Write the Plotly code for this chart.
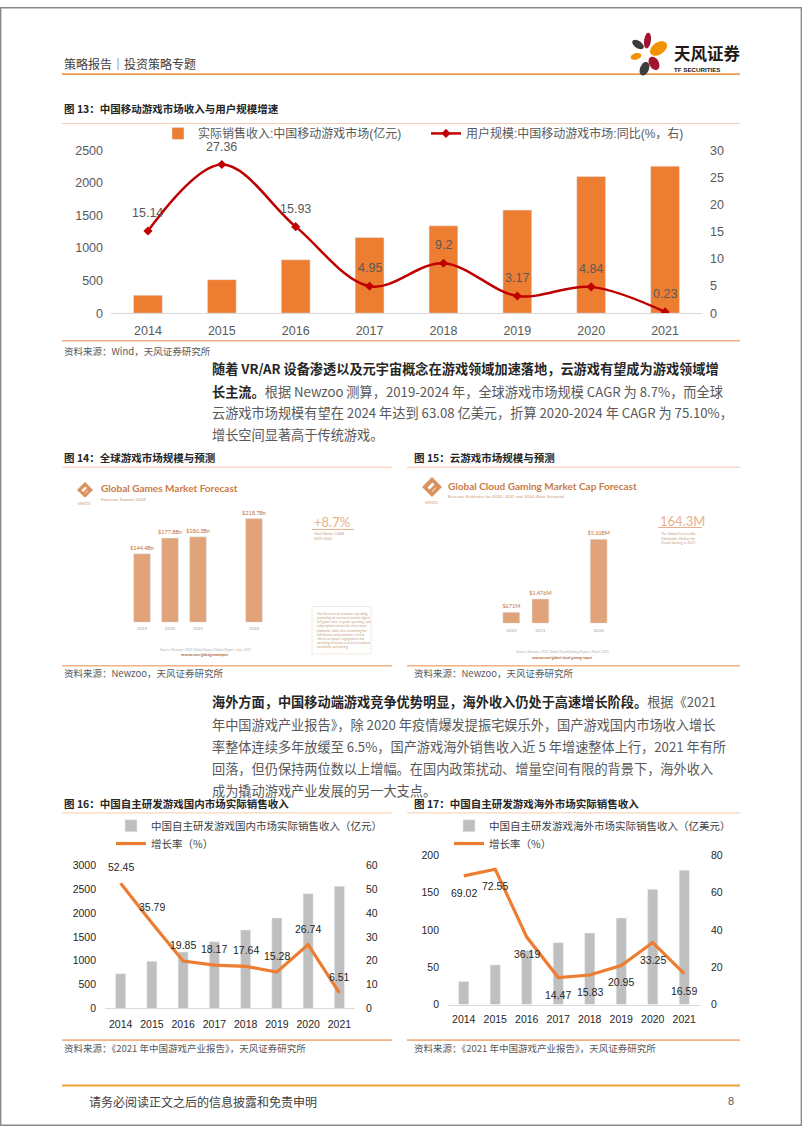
import math
import plotly.graph_objects as go

W, H = 802, 1133
def X(px): return px / W
def Y(py): return 1 - py / H

# ---------------- data ----------------
years13 = ['2014', '2015', '2016', '2017', '2018', '2019', '2020', '2021']
rev13 = [274.9, 514.6, 819.2, 1161.2, 1339.6, 1581.1, 2096.8, 2255.4]
yoy13 = [15.14, 27.36, 15.93, 4.95, 9.2, 3.17, 4.84, 0.23]

years14 = ['2019', '2020', '2021', '2024']
slots14 = ['2019', '2020', '2021', ' ', '2024']
glob14 = [144.4, 177.8, 180.3, 218.7]

years15 = ['2020', '2021', '2024']
slots15 = ['2020', '2021', ' ', '2024']
cloud15 = [671, 1476, 5108]

years16 = ['2014', '2015', '2016', '2017', '2018', '2019', '2020', '2021']
dom16 = [726.6, 986.7, 1182.5, 1397.4, 1643.9, 1895.1, 2401.9, 2558.2]
gr16 = [52.45, 35.79, 19.85, 18.17, 17.64, 15.28, 26.74, 6.51]

years17 = ['2014', '2015', '2016', '2017', '2018', '2019', '2020', '2021']
ovs17 = [30.76, 53.1, 72.35, 82.8, 95.9, 115.95, 154.5, 180.13]
gr17 = [69.02, 72.55, 36.19, 14.47, 15.83, 20.95, 33.25, 16.59]

# ---------------- styles ----------------
F_CJK = 'Noto Sans CJK SC, sans-serif'
F_NUM = 'Liberation Sans, Noto Sans CJK SC, sans-serif'
F_NAR = 'Liberation Sans Narrow, Liberation Sans, Noto Sans CJK SC, sans-serif'
F_NZ = 'Lato, Open Sans, sans-serif'
ORANGE = '#ED7D31'
DARKRED = '#C00000'
GREY = '#BFBFBF'
TAN = '#E0A37A'
NZTXT = '#C97B47'

fig = go.Figure()

# chart 13
fig.add_trace(go.Bar(x=years13, y=rev13, name='实际销售收入:中国移动游戏市场(亿元)',
                     marker_color=ORANGE, width=0.39, xaxis='x', yaxis='y', legend='legend'))
fig.add_trace(go.Scatter(x=years13, y=yoy13, name='用户规模:中国移动游戏市场:同比(%，右)',
                         mode='lines+markers',
                         line=dict(color=DARKRED, width=2.5, shape='spline', smoothing=1.0),
                         marker=dict(symbol='diamond', size=7, color=DARKRED),
                         xaxis='x', yaxis='y2', legend='legend2'))
# chart 14
fig.add_trace(go.Bar(x=years14, y=glob14, width=0.6, marker_color=TAN, showlegend=False,
                     texttemplate='$%{y}Bn', textposition='outside', constraintext='none',
                     textfont=dict(size=5.5, color='#C0703A', family=F_NZ), cliponaxis=False,
                     xaxis='x2', yaxis='y3'))
# chart 15
fig.add_trace(go.Bar(x=years15, y=cloud15, width=0.58, marker_color=TAN, showlegend=False,
                     texttemplate='$%{y:,}M', textposition='outside', constraintext='none',
                     textfont=dict(size=5.5, color='#C0703A', family=F_NZ), cliponaxis=False,
                     xaxis='x3', yaxis='y4'))
# chart 16
fig.add_trace(go.Bar(x=years16, y=dom16, name='中国自主研发游戏国内市场实际销售收入（亿元）',
                     marker_color=GREY, width=0.32, xaxis='x4', yaxis='y5', legend='legend3'))
fig.add_trace(go.Scatter(x=years16, y=gr16, name='增长率（%）', mode='lines',
                         line=dict(color=ORANGE, width=3.2), xaxis='x4', yaxis='y6', legend='legend4'))
# chart 17
fig.add_trace(go.Bar(x=years17, y=ovs17, name='中国自主研发游戏海外市场实际销售收入（亿美元）',
                     marker_color=GREY, width=0.32, xaxis='x5', yaxis='y7', legend='legend5'))
fig.add_trace(go.Scatter(x=years17, y=gr17, name='增长率（%）', mode='lines',
                         line=dict(color=ORANGE, width=3.2), xaxis='x5', yaxis='y8', legend='legend6'))

# ---------------- axes ----------------
def xcat(dom, anchor, size, color, family, cats, line=True, standoff=5):
    return dict(domain=[X(dom[0]), X(dom[1])], anchor=anchor, type='category',
                categoryorder='array', categoryarray=cats, range=[-0.5, len(cats) - 0.5],
                showline=line, linecolor='#D9D9D9', linewidth=1, ticks='', showgrid=False,
                zeroline=False, tickfont=dict(size=size, color=color, family=family),
                ticklabelstandoff=standoff, fixedrange=True)

def yax(dom, anchor, rng, dtick, size, color, family, side='left', overlay=None, show=True, standoff=7):
    d = dict(anchor=anchor, range=rng, dtick=dtick, side=side, showgrid=False, zeroline=False,
             showline=False, ticks='', showticklabels=show,
             tickfont=dict(size=size, color=color, family=family), ticklabelstandoff=standoff,
             fixedrange=True)
    if overlay:
        d['overlaying'] = overlay
    else:
        d['domain'] = [Y(dom[0]), Y(dom[1])]
    return d

layout = dict(
    width=W, height=H, margin=dict(l=0, r=0, t=0, b=0), autosize=False,
    paper_bgcolor='white', plot_bgcolor='rgba(0,0,0,0)',
    font=dict(family=F_CJK, color='#404040'),
    xaxis=xcat((111, 702), 'y', 12.5, '#595959', F_NAR, years13, standoff=6),
    yaxis=yax((310, 145), 'x', [0, 2500], 500, 12.5, '#595959', F_NAR),
    yaxis2=yax(None, 'x', [0, 30], 5, 12.5, '#595959', F_NAR, side='right', overlay='y'),
    xaxis2=xcat((128, 268), 'y3', 4.5, '#A8A8A8', F_NZ, slots14, line=False, standoff=2),
    yaxis3=yax((623, 503), 'x2', [0, 250], 50, 5, '#999', F_NZ, show=False),
    xaxis3=xcat((496.75, 613.25), 'y4', 4.5, '#A8A8A8', F_NZ, slots15, line=False, standoff=3),
    yaxis4=yax((624, 524), 'x3', [0, 6000], 1000, 5, '#999', F_NZ, show=False),
    xaxis4=xcat((105, 355), 'y5', 10.5, '#262626', F_NUM, years16, standoff=6),
    yaxis5=yax((1014, 869), 'x4', [0, 3000], 500, 10.5, '#262626', F_NUM, standoff=8),
    yaxis6=yax(None, 'x4', [0, 60], 10, 10.5, '#262626', F_NUM, side='right', overlay='y5', standoff=10),
    xaxis5=xcat((448, 700), 'y7', 10.5, '#262626', F_NUM, years17, standoff=5),
    yaxis7=yax((1010, 859), 'x5', [0, 200], 50, 10.5, '#262626', F_NUM, standoff=8),
    yaxis8=yax(None, 'x5', [0, 80], 20, 10.5, '#262626', F_NUM, side='right', overlay='y7', standoff=10),
)

def leg(textx, ypx, size, color, family):
    return dict(x=X(textx - 39), y=Y(ypx), xanchor='left', yanchor='middle', orientation='h',
                bgcolor='rgba(0,0,0,0)', borderwidth=0,
                font=dict(size=size, color=color, family=family))

layout['legend'] = leg(197, 128, 12, '#595959', F_NAR)
layout['legend2'] = leg(465, 128, 12, '#595959', F_NAR)
layout['legend3'] = leg(150, 829, 10.5, '#404040', F_CJK)
layout['legend4'] = leg(150, 847, 10.5, '#404040', F_CJK)
layout['legend5'] = leg(488, 829, 10.5, '#404040', F_CJK)
layout['legend6'] = leg(488, 847, 10.5, '#404040', F_CJK)

# ---------------- annotations ----------------
ann = []
def txt(xpx, ypx, text, size, color='#404040', family=F_CJK, xanchor='left', **kw):
    ann.append(dict(x=X(xpx), y=Y(ypx), xref='paper', yref='paper', text=text, showarrow=False,
                    xanchor=xanchor, yanchor='middle', align='left',
                    font=dict(size=size, color=color, family=family), **kw))

# header / footer
txt(62, 57, '策略报告｜投资策略专题', 12, '#404040')
txt(672, 47, '<b>天风证券</b>', 16.5, '#231815')
txt(672, 63, '<b>TF SECURITIES</b>', 6.2, '#231815', F_NUM)
txt(87, 1108, '请务必阅读正文之后的信息披露和免责申明', 12, '#404040')
txt(736, 1108, '8', 11, '#595959', F_NUM, xanchor='right')

# titles & sources
txt(62, 103, '<b>图 13：中国移动游戏市场收入与用户规模增速</b>', 10.5, '#262626')
txt(62, 348, '资料来源：Wind，天风证券研究所', 9.5, '#595959')
txt(62, 456, '<b>图 14：全球游戏市场规模与预测</b>', 10.5, '#262626')
txt(412, 456, '<b>图 15：云游戏市场规模与预测</b>', 10.5, '#262626')
txt(62, 674, '资料来源：Newzoo，天风证券研究所', 9.5, '#595959')
txt(412, 674, '资料来源：Newzoo，天风证券研究所', 9.5, '#595959')
txt(62, 806, '<b>图 16：中国自主研发游戏国内市场实际销售收入</b>', 10.5, '#262626')
txt(412, 806, '<b>图 17：中国自主研发游戏海外市场实际销售收入</b>', 10.5, '#262626')
txt(62, 1054, '资料来源：《2021 年中国游戏产业报告》，天风证券研究所', 9.5, '#595959')
txt(412, 1054, '资料来源：《2021 年中国游戏产业报告》，天风证券研究所', 9.5, '#595959')

# paragraphs
B = '#262626'
N = '#595959'
def para(ypx, parts, size=13.2):
    s = ''
    for bold, t in parts:
        if bold:
            s += f'<span style="color:{B}"><b>{t}</b></span>'
        else:
            s += f'<span style="color:{N}">{t}</span>'
    txt(210, ypx, s, size, N)

para(366, [(True, '随着 VR/AR 设备渗透以及元宇宙概念在游戏领域加速落地，云游戏有望成为游戏领域增')])
para(389, [(True, '长主流。'), (False, '根据 Newzoo 测算，2019-2024 年，全球游戏市场规模 CAGR 为 8.7%，而全球')])
para(411, [(False, '云游戏市场规模有望在 2024 年达到 63.08 亿美元，折算 2020-2024 年 CAGR 为 75.10%，')])
para(433, [(False, '增长空间显著高于传统游戏。')])

para(703, [(True, '海外方面，中国移动端游戏竞争优势明显，海外收入仍处于高速增长阶段。'), (False, '根据《2021')])
para(726, [(False, '年中国游戏产业报告》，除 2020 年疫情爆发提振宅娱乐外，国产游戏国内市场收入增长')])
para(749, [(False, '率整体连续多年放缓至 6.5%，国产游戏海外销售收入近 5 年增速整体上行，2021 年有所')])
para(771, [(False, '回落，但仍保持两位数以上增幅。在国内政策扰动、增量空间有限的背景下，海外收入')])
para(793, [(False, '成为撬动游戏产业发展的另一大支点。')])

# data labels (from the series arrays; category index on the x axis)
for i, v in enumerate(yoy13):
    ann.append(dict(x=i, y=v, xref='x', yref='y2', text=f'{v:g}', showarrow=False, yshift=18,
                    font=dict(size=12.5, color='#595959', family=F_NAR)))
for i, v in enumerate(gr16):
    ann.append(dict(x=i, y=v, xref='x4', yref='y6', text=f'{v:g}', showarrow=False, yshift=16,
                    font=dict(size=10.5, color='#262626', family=F_NUM)))
for i, v in enumerate(gr17):
    ann.append(dict(x=i, y=v, xref='x5', yref='y8', text=f'{v:g}', showarrow=False, yshift=-17,
                    font=dict(size=10.5, color='#262626', family=F_NUM)))

# Newzoo graphics texts
txt(99, 487, '<b>Global Games Market Forecast</b>', 10, NZTXT, F_NZ)
txt(99, 498, 'Forecast Toward 2024', 4.6, '#CF9A78', F_NZ)
txt(85, 503, 'NEWZOO', 2.8, '#CF9A78', F_NZ, xanchor='center')
txt(312, 521, '+8.7%', 13, '#E9B08A', F_NZ)
txt(312, 536, 'Total Market CAGR<br>2019-2024', 3.6, '#C8A080', F_NZ)
txt(315, 631,
    'Our forecasts of consumer spending<br>(excluding ad revenues) include digital<br>'
    'full-game sales, in-game spending, and<br>subscriptions across the three main<br>'
    'platforms, while also accounting for<br>inflationary and pandemic-related<br>'
    'effects on player engagement and<br>spending behavior as well as hardware<br>'
    'availability and pricing.', 3.2, '#C8A080', F_NZ)
txt(205, 651, 'Source: Newzoo | 2021 Global Games Market Report | June 2021', 3.2, '#B0B0B0', F_NZ, xanchor='center')
txt(205, 656, '<b>newzoo.com/globalgamesreport</b>', 3.3, '#A8683E', F_NZ, xanchor='center')

txt(446, 485, '<b>Global Cloud Gaming Market Cap Forecast</b>', 10, NZTXT, F_NZ)
txt(446, 496, 'Revenue Estimates for 2020, 2021 and 2024 (Base Scenario)', 4.4, '#CF9A78', F_NZ)
txt(432, 502, 'NEWZOO', 2.8, '#CF9A78', F_NZ, xanchor='center')
txt(658, 520, '164.3M', 13, '#E9B08A', F_NZ)
txt(659, 538, 'The Global Serviceable<br>Obtainable Market for<br>Cloud Gaming in 2021', 3.5, '#C8A080', F_NZ)
txt(562, 653, 'Source: Newzoo | 2021 Global Cloud Gaming Report | March 2021', 3.2, '#B0B0B0', F_NZ, xanchor='center')
txt(562, 659, '<b>newzoo.com/global-cloud-gaming-report</b>', 3.3, '#A8683E', F_NZ, xanchor='center')

layout['annotations'] = ann

# ---------------- shapes ----------------
shapes = []
def hline(x0, x1, ypx, color, width):
    shapes.append(dict(type='line', xref='paper', yref='paper', x0=X(x0), x1=X(x1), y0=Y(ypx), y1=Y(ypx),
                       line=dict(color=color, width=width)))

hline(62, 740, 68, '#EE9A4D', 1.6)          # header
hline(62, 740, 118, '#F8CBAD', 1)           # fig13 title rule
hline(62, 740, 338, '#F4B183', 1.6)         # fig13 source rule
hline(62, 392, 466, '#F8CBAD', 1)
hline(407, 740, 466, '#F8CBAD', 1)
hline(62, 392, 667, '#F4B183', 1.6)
hline(407, 740, 667, '#F4B183', 1.6)
hline(62, 392, 816, '#F8CBAD', 1)
hline(407, 740, 816, '#F8CBAD', 1)
hline(62, 392, 1046, '#F4B183', 1.6)
hline(407, 740, 1046, '#F4B183', 1.6)
hline(62, 740, 1092, '#E9A23B', 2)          # footer
hline(312, 354, 529, '#E9B08A', 1)          # +8.7% underline
hline(658, 702, 527, '#E9B08A', 1)          # 164.3M underline

def poly(points, color):
    p = 'M ' + ' L '.join(f'{X(px):.5f},{Y(py):.5f}' for px, py in points) + ' Z'
    shapes.append(dict(type='path', xref='paper', yref='paper', path=p,
                       fillcolor=color, line=dict(width=0)))

def ellipse(cx, cy, rx, ry, ang, color, n=28):
    a = math.radians(ang)
    pts = []
    for i in range(n):
        t = 2 * math.pi * i / n
        ex, ey = rx * math.cos(t), ry * math.sin(t)
        pts.append((cx + ex * math.cos(a) - ey * math.sin(a), cy + ex * math.sin(a) + ey * math.cos(a)))
    poly(pts, color)

# TF logo petals
ellipse(638, 38, 6.5, 3.6, 35, '#3C3C3C')
ellipse(647.5, 34, 3.4, 8, 8, '#A3122E')
ellipse(658.5, 42, 9.5, 6, -35, '#F39200')
ellipse(636, 50, 5.5, 3.2, -18, '#F39200')
ellipse(654, 57, 4.8, 7.2, -28, '#A3122E')
ellipse(644.5, 62.5, 4.4, 7.2, 22, '#3C3C3C')

# Newzoo logos (diamond with white stripe)
def nzlogo(cx, cy, r):
    poly([(cx, cy - r), (cx + r, cy), (cx, cy + r), (cx - r, cy)], '#D9925F')
    poly([(cx - r * 0.45, cy + r * 0.05), (cx + r * 0.05, cy - r * 0.45), (cx + r * 0.25, cy - r * 0.25),
          (cx - r * 0.25, cy + r * 0.25)], 'white')
    poly([(cx - r * 0.05, cy + r * 0.45), (cx + r * 0.45, cy - r * 0.05), (cx + r * 0.25, cy + r * 0.25),
          (cx + r * 0.05, cy + r * 0.45)], 'white')

nzlogo(85, 489, 8)
nzlogo(432, 486, 10)

# small text box in fig 14
shapes.append(dict(type='rect', xref='paper', yref='paper', x0=X(312), x1=X(371), y0=Y(607), y1=Y(655),
                   line=dict(color='#F3E3D6', width=0.8), fillcolor='rgba(0,0,0,0)'))

# page border
shapes.append(dict(type='rect', xref='paper', yref='paper', x0=X(0.7), x1=X(801.3), y0=Y(0.7), y1=Y(1132.3),
                   line=dict(color='#8A8A8A', width=1.4), fillcolor='rgba(0,0,0,0)'))

layout['shapes'] = shapes
fig.update_layout(**layout)

fig.write_html('out.html', config={'displayModeBar': False},
               post_script="document.body.style.margin='0';document.body.style.overflow='hidden';")
